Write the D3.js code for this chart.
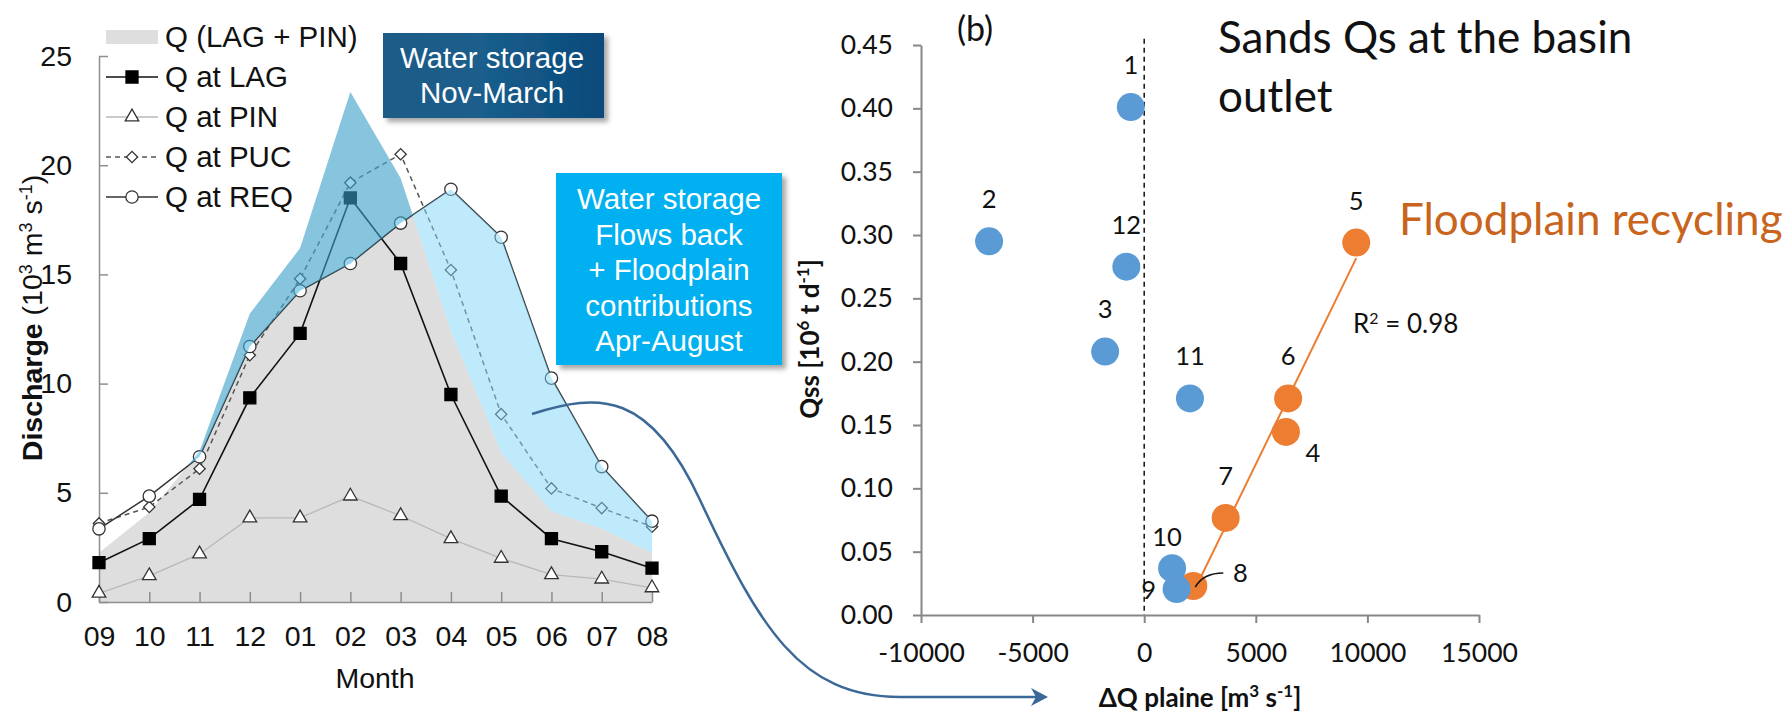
<!DOCTYPE html>
<html>
<head>
<meta charset="utf-8">
<script src="https://cdn.jsdelivr.net/npm/d3@7"></script>
<style>
  body { margin: 0; background: #fff; }
  svg { display: block; }
</style>
</head>
<body>
<script>
// set width and height for the svg element
var width = 1792,
    height = 714;

// ---- panel (a) data : monthly discharge, 10^3 m3/s ----
var months = ["09", "10", "11", "12", "01", "02", "03", "04", "05", "06", "07", "08"];
var qLagPin = [2.25, 4.1, 6.9, 13.2, 16.2, 23.35, 19.4, 12.4, 6.85, 4.15, 3.35, 2.25];
var qLAG = [1.8, 2.9, 4.7, 9.35, 12.3, 18.5, 15.5, 9.5, 4.85, 2.9, 2.3, 1.55];
var qPIN = [0.4, 1.2, 2.2, 3.85, 3.85, 4.85, 3.95, 2.9, 2.0, 1.25, 1.05, 0.65];
var qPUC = [3.6, 4.35, 6.1, 11.3, 14.8, 19.2, 20.5, 15.2, 8.6, 5.2, 4.3, 3.45];
var qREQ = [3.35, 4.85, 6.65, 11.7, 14.25, 15.5, 17.35, 18.9, 16.7, 10.25, 6.2, 3.7];
var dischargeTicks = [0, 5, 10, 15, 20, 25];

// ---- panel (b) data : sand flux vs floodplain discharge ----
var periods = ["1", "2", "3", "4", "5", "6", "7", "8", "9", "10", "11", "12"];
var dQplaine = [-600, -6950, -1750, 6350, 9500, 6450, 3650, 2200, 1450, 1250, 2050, -800];
var qss = [0.401, 0.295, 0.208, 0.1445, 0.294, 0.171, 0.0766, 0.0229, 0.0205, 0.037, 0.171, 0.275];
var recycling = [false, false, false, true, true, true, true, true, false, false, false, false];
var labelPlace = ["above", "above", "above", "belowright", "above", "above", "above", "leader", "left", "abovenear", "above", "above"];
var qssTicks = [0, 0.05, 0.10, 0.15, 0.20, 0.25, 0.30, 0.35, 0.40, 0.45];
var dqTicks = [-10000, -5000, 0, 5000, 10000, 15000];

var fontA = "'Liberation Sans', Arial, sans-serif";
var fontB = "Lato, 'Open Sans', sans-serif";

// initialize svg element
var svg = d3.select("body").append("svg")
    .attr("width", width)
    .attr("height", height);

svg.append("rect").attr("width", width).attr("height", height).attr("fill", "#fff");

var defs = svg.append("defs");
var shadow = defs.append("filter").attr("id", "shadow")
    .attr("x", "-10%").attr("y", "-10%").attr("width", "130%").attr("height", "140%");
shadow.append("feDropShadow")
    .attr("dx", 4).attr("dy", 4).attr("stdDeviation", 2.5)
    .attr("flood-color", "#000").attr("flood-opacity", 0.35);

var grad = defs.append("linearGradient").attr("id", "darkbox");
grad.append("stop").attr("offset", "0%").attr("stop-color", "#1b5b86");
grad.append("stop").attr("offset", "45%").attr("stop-color", "#1a5e8c");
grad.append("stop").attr("offset", "100%").attr("stop-color", "#094a7b");

// =================== panel (a) ===================
var x = d3.scalePoint().domain(months).range([99, 652]);
var xi = d3.scaleLinear().domain([0, months.length - 1]).range([99, 652]);
var y = d3.scaleLinear().domain([0, 25]).range([602, 56]);

var ga = svg.append("g").style("font-family", fontA);

// grey area Q (LAG + PIN)
ga.append("path")
    .datum(qLagPin)
    .attr("fill", "#dedede")
    .attr("d", d3.area()
        .x(function(d, i) { return xi(i); })
        .y0(y(0))
        .y1(function(d) { return y(d); }));

// axes
var yAxisA = ga.append("g")
    .attr("transform", "translate(99,0)")
    .call(d3.axisLeft(y).tickValues(dischargeTicks).tickSize(-9).tickSizeOuter(0).tickPadding(27));
var xAxisA = ga.append("g")
    .attr("transform", "translate(0,602)")
    .call(d3.axisBottom(x).tickSize(-10).tickSizeOuter(0).tickPadding(24));
[yAxisA, xAxisA].forEach(function(a) {
    a.selectAll("path, line").attr("stroke", "#8e8e8e").attr("stroke-width", 1.5);
    a.selectAll("text").attr("font-size", 28.5).attr("fill", "#111").style("font-family", fontA);
});

// series lines
var lineA = d3.line().x(function(d, i) { return xi(i); }).y(function(d) { return y(d); });
var series = [
    { key: "Q at LAG", values: qLAG, stroke: "#111", width: 1.6, dash: null, marker: "square" },
    { key: "Q at PIN", values: qPIN, stroke: "#b8b8b8", width: 1.3, dash: null, marker: "triangle" },
    { key: "Q at PUC", values: qPUC, stroke: "#555", width: 1.5, dash: "5,4", marker: "diamond" },
    { key: "Q at REQ", values: qREQ, stroke: "#333", width: 1.5, dash: null, marker: "circle" }
];

function marker(sel, type) {
    var sym = { square: d3.symbolSquare, triangle: d3.symbolTriangle, diamond: d3.symbolSquare, circle: d3.symbolCircle }[type];
    var size = { square: 144, triangle: 80, diamond: 64, circle: 120 }[type];
    sel.attr("d", d3.symbol().type(sym).size(size))
        .attr("fill", type === "square" ? "#000" : "#fff")
        .attr("stroke", type === "square" ? "#000" : "#333")
        .attr("stroke-width", 1.3);
}

series.forEach(function(s) {
    ga.append("path")
        .datum(s.values)
        .attr("fill", "none")
        .attr("stroke", s.stroke)
        .attr("stroke-width", s.width)
        .attr("stroke-dasharray", s.dash)
        .attr("d", lineA);
});
series.forEach(function(s) {
    ga.selectAll(null)
        .data(s.values)
        .enter().append("path")
        .attr("transform", function(d, i) {
            return "translate(" + xi(i) + "," + y(d) + ")" + (s.marker === "diamond" ? " rotate(45)" : "");
        })
        .call(marker, s.marker);
});

// storage / release bands between REQ and LAG+PIN
function at(arr, t) {
    var i = Math.min(Math.floor(t), arr.length - 2);
    return arr[i] + (arr[i + 1] - arr[i]) * (t - i);
}
var crossings = [];
for (var i = 0; i < months.length - 1; i++) {
    var d0 = qLagPin[i] - qREQ[i], d1 = qLagPin[i + 1] - qREQ[i + 1];
    if (d0 * d1 < 0) crossings.push(i + d0 / (d0 - d1));
}
var split = crossings.filter(function(t) { return t > 5; })[0];
var steps = d3.range(0, months.length).concat(crossings).sort(d3.ascending);

function band(lo, hi, from, to) {
    var ts = steps.filter(function(t) { return t >= from && t <= to; });
    return d3.area()
        .x(function(t) { return xi(t); })
        .y0(function(t) { return y(at(lo, t)); })
        .y1(function(t) { return y(Math.max(at(lo, t), at(hi, t))); })(ts);
}
ga.append("path")
    .attr("fill", "#3fb0e0").attr("fill-opacity", 0.55)
    .attr("d", band(qREQ, qLagPin, 0, split));
ga.append("path")
    .attr("fill", "#7fd6f7").attr("fill-opacity", 0.5)
    .attr("d", band(qLagPin, qREQ, split, months.length - 1));

// legend
var leg = ga.append("g");
leg.append("rect").attr("x", 106).attr("y", 30).attr("width", 52).attr("height", 14).attr("fill", "#dedede");
leg.append("text").attr("x", 165).attr("y", 37).attr("dy", "0.35em").attr("font-size", 29.5).attr("fill", "#111")
    .text("Q (LAG + PIN)");
series.forEach(function(s, k) {
    var ly = 77 + k * 40;
    leg.append("line").attr("x1", 106).attr("x2", 158).attr("y1", ly).attr("y2", ly)
        .attr("stroke", s.stroke).attr("stroke-width", s.width).attr("stroke-dasharray", s.dash);
    leg.append("path")
        .attr("transform", "translate(132," + ly + ")" + (s.marker === "diamond" ? " rotate(45)" : ""))
        .call(marker, s.marker);
    leg.append("text").attr("x", 165).attr("y", ly).attr("dy", "0.35em").attr("font-size", 29.5).attr("fill", "#111")
        .text(s.key);
});

// axis titles
ga.append("text")
    .attr("x", 375).attr("y", 688)
    .attr("text-anchor", "middle").attr("font-size", 28.5).attr("fill", "#111")
    .text("Month");
var yt = ga.append("text")
    .attr("transform", "translate(42,318) rotate(-90)")
    .attr("text-anchor", "middle").attr("font-size", 28.5).attr("fill", "#111");
yt.append("tspan").attr("font-weight", "bold").text("Discharge");
yt.append("tspan").text(" (10");
yt.append("tspan").attr("baseline-shift", "super").attr("font-size", 18).text("3");
yt.append("tspan").text(" m");
yt.append("tspan").attr("baseline-shift", "super").attr("font-size", 18).text("3");
yt.append("tspan").text(" s");
yt.append("tspan").attr("baseline-shift", "super").attr("font-size", 18).text("-1");
yt.append("tspan").text(")");

// annotation boxes
var box1 = ga.append("g");
box1.append("rect").attr("x", 383).attr("y", 33).attr("width", 221).attr("height", 85)
    .attr("fill", "url(#darkbox)").attr("filter", "url(#shadow)");
["Water storage", "Nov-March"].forEach(function(t, k) {
    box1.append("text").attr("x", 492).attr("y", 58 + k * 35).attr("dy", "0.35em")
        .attr("text-anchor", "middle").attr("font-size", 29.5).attr("fill", "#fff").text(t);
});
var box2 = ga.append("g");
box2.append("rect").attr("x", 556).attr("y", 173).attr("width", 226).attr("height", 192)
    .attr("fill", "#00b0f0").attr("filter", "url(#shadow)");
["Water storage", "Flows back", "+ Floodplain", "contributions", "Apr-August"].forEach(function(t, k) {
    box2.append("text").attr("x", 669).attr("y", 199 + k * 35.5).attr("dy", "0.35em")
        .attr("text-anchor", "middle").attr("font-size", 29.5).attr("fill", "#fff").text(t);
});

// =================== panel (b) ===================
var xb = d3.scaleLinear().domain([-10000, 15000]).range([921, 1479]);
var yb = d3.scaleLinear().domain([0, 0.45]).range([615, 45]);

var gb = svg.append("g").style("font-family", fontB);

var yAxisB = gb.append("g")
    .attr("transform", "translate(921,0)")
    .call(d3.axisLeft(yb).tickValues(qssTicks).tickSize(8).tickSizeOuter(0).tickPadding(20)
        .tickFormat(d3.format(".2f")));
var xAxisB = gb.append("g")
    .attr("transform", "translate(0,615)")
    .call(d3.axisBottom(xb).tickValues(dqTicks).tickSize(8).tickSizeOuter(0).tickPadding(20)
        .tickFormat(function(d) { return String(d); }));
[yAxisB, xAxisB].forEach(function(a) {
    a.selectAll("path, line").attr("stroke", "#878787").attr("stroke-width", 2);
    a.selectAll("text").attr("font-size", 26.5).attr("fill", "#111").style("font-family", fontB);
});

// zero line
gb.append("line")
    .attr("x1", xb(0)).attr("x2", xb(0))
    .attr("y1", yb(0.455)).attr("y2", yb(0))
    .attr("stroke", "#111").attr("stroke-width", 1.5).attr("stroke-dasharray", "5,4");

// linear trend through the floodplain recycling months
var orange = d3.range(periods.length).filter(function(i) { return recycling[i]; });
var mx = d3.mean(orange, function(i) { return dQplaine[i]; });
var my = d3.mean(orange, function(i) { return qss[i]; });
var slope = d3.sum(orange, function(i) { return (dQplaine[i] - mx) * (qss[i] - my); }) /
            d3.sum(orange, function(i) { return (dQplaine[i] - mx) * (dQplaine[i] - mx); });
var x0 = d3.min(orange, function(i) { return dQplaine[i]; });
var x1 = d3.max(orange, function(i) { return dQplaine[i]; });
gb.append("line")
    .attr("x1", xb(x0)).attr("y1", yb(my + slope * (x0 - mx)))
    .attr("x2", xb(x1)).attr("y2", yb(my + slope * (x1 - mx)))
    .attr("stroke", "#ed7d31").attr("stroke-width", 2);

// points
gb.selectAll("circle.pt")
    .data(d3.range(periods.length))
    .enter().append("circle")
    .attr("class", "pt")
    .attr("cx", function(i) { return xb(dQplaine[i]); })
    .attr("cy", function(i) { return yb(qss[i]); })
    .attr("r", 14)
    .attr("fill", function(i) { return recycling[i] ? "#ed7d31" : "#5b9bd5"; });

// point labels
var offs = {
    above: [0, -42], abovenear: [-5, -31], belowright: [27, 21], left: [-28, 1], leader: [47, -13]
};
gb.selectAll("text.lbl")
    .data(d3.range(periods.length))
    .enter().append("text")
    .attr("class", "lbl")
    .attr("x", function(i) { return xb(dQplaine[i]) + offs[labelPlace[i]][0]; })
    .attr("y", function(i) { return yb(qss[i]) + offs[labelPlace[i]][1]; })
    .attr("dy", "0.35em")
    .attr("text-anchor", "middle")
    .attr("font-size", 25.5)
    .attr("fill", "#111")
    .text(function(i) { return periods[i]; });

// leader line for the label sitting right of its point
gb.selectAll("path.leader")
    .data(d3.range(periods.length).filter(function(i) { return labelPlace[i] === "leader"; }))
    .enter().append("path")
    .attr("class", "leader")
    .attr("fill", "none").attr("stroke", "#111").attr("stroke-width", 1.6)
    .attr("d", function(i) {
        var px = xb(dQplaine[i]), py = yb(qss[i]);
        return "M" + (px + 2) + "," + (py + 1) + " Q" + (px + 10) + "," + (py - 13) + " " + (px + 30) + "," + (py - 13);
    });

// titles and notes
gb.append("text").attr("x", 975).attr("y", 29).attr("dy", "0.35em")
    .attr("text-anchor", "middle").attr("font-size", 34).attr("fill", "#111").text("(b)");
gb.append("text").attr("x", 1218).attr("y", 53).attr("font-size", 44).attr("fill", "#111")
    .text("Sands Qs at the basin");
gb.append("text").attr("x", 1218).attr("y", 112).attr("font-size", 44).attr("fill", "#111")
    .text("outlet");
gb.append("text").attr("x", 1399).attr("y", 235).attr("font-size", 44).attr("fill", "#c9641c")
    .text("Floodplain recycling");
var r2 = gb.append("text").attr("x", 1353).attr("y", 333).attr("font-size", 26).attr("fill", "#111");
r2.append("tspan").text("R");
r2.append("tspan").attr("baseline-shift", "super").attr("font-size", 16).text("2");
r2.append("tspan").text(" = 0.98");

// axis titles
var xt = gb.append("text")
    .attr("x", 1200).attr("y", 707)
    .attr("text-anchor", "middle").attr("font-size", 26).attr("font-weight", "bold").attr("fill", "#111");
xt.append("tspan").text("\u0394Q plaine [m");
xt.append("tspan").attr("baseline-shift", "super").attr("font-size", 17).text("3");
xt.append("tspan").text(" s");
xt.append("tspan").attr("baseline-shift", "super").attr("font-size", 17).text("-1");
xt.append("tspan").text("]");

var ytb = gb.append("text")
    .attr("transform", "translate(819,339) rotate(-90)")
    .attr("text-anchor", "middle").attr("font-size", 26).attr("font-weight", "bold").attr("fill", "#111");
ytb.append("tspan").text("Qss [10");
ytb.append("tspan").attr("baseline-shift", "super").attr("font-size", 17).text("6");
ytb.append("tspan").text(" t d");
ytb.append("tspan").attr("baseline-shift", "super").attr("font-size", 17).text("-1");
ytb.append("tspan").text("]");

// curved arrow linking the two panels
svg.append("path")
    .attr("fill", "none").attr("stroke", "#3b6896").attr("stroke-width", 2.5)
    .attr("d", "M532,414 C600,392 650,392 700,500 C760,628 800,697 900,697 L1036,697");
svg.append("path")
    .attr("fill", "#3b6896")
    .attr("d", "M1048,697 L1031,688 L1036,697 L1031,706 Z");
</script>
</body>
</html>
